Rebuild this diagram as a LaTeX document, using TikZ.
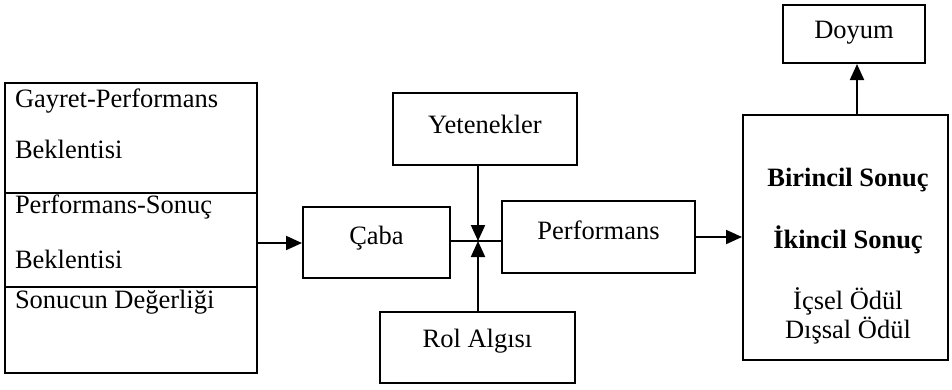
\documentclass[tikz,border=0pt]{standalone}
\usepackage{fontspec}
\setmainfont{Liberation Serif}
\usetikzlibrary{arrows.meta}
\begin{document}
\begin{tikzpicture}[x=1pt,y=-1pt,
  line width=2pt,
  every node/.style={font=\fontsize{26.5}{30}\selectfont, inner sep=0pt},
  box/.style={draw, line width=2pt, rectangle},
  arr/.style={-{Triangle[length=16pt,width=14pt]}},
  lbl/.style={anchor=west}]
\useasboundingbox (0,0) rectangle (952,389);
% left composite box
\node[box, minimum width=252pt, minimum height=290pt] (exp) at (131,228) {};
\coordinate (d1l) at (5,193); \coordinate (d1r) at (257,193);
\coordinate (d2l) at (5,287); \coordinate (d2r) at (257,287);
\draw (d1l) -- (d1r);
\draw (d2l) -- (d2r);
\node[lbl] (t1) at (14,101) {Gayret-Performans};
\node[lbl] (t2) at (14,149) {Beklentisi};
\node[lbl] (t3) at (14,207) {Performans-Sonuç};
\node[lbl] (t4) at (14,259) {Beklentisi};
\node[lbl] (t5) at (14,302) {Sonucun Değerliği};
% middle boxes
\node[box, minimum width=147pt, minimum height=71pt] (caba) at (376.5,242.5) {};
\node (tcaba) at (376.5,238) {Çaba};
\node[box, minimum width=184pt, minimum height=72pt] (yet) at (485,129) {};
\node (tyet) at (485,124) {Yetenekler};
\node[box, minimum width=195pt, minimum height=71pt] (rol) at (477.5,347.5) {};
\node (trol) at (477.5,341) {Rol Algısı};
\node[box, minimum width=193pt, minimum height=72pt] (perf) at (598.5,237) {};
\node (tperf) at (598.5,230) {Performans};
% right boxes
\node[box, minimum width=205pt, minimum height=245pt] (sonuc) at (845.5,237.5) {};
\node[font=\fontsize{26.5}{30}\selectfont\bfseries] (s1) at (848,180) {Birincil Sonuç};
\node[font=\fontsize{26.5}{30}\selectfont\bfseries] (s2) at (848,240) {İkincil Sonuç};
\node (s3) at (848,301) {İçsel Ödül};
\node (s4) at (848,331) {Dışsal Ödül};
\node[box, minimum width=142pt, minimum height=58pt] (doy) at (854,34) {};
\node (tdoy) at (854,33) {Doyum};
% connectors
\coordinate (J) at (478,241);
\coordinate (ex) at (257,243);
\draw[arr] (ex) -- (caba.west |- ex);
\draw (caba.east |- J) -- (perf.west |- J);
\draw[arr] (J |- yet.south) -- (J);
\draw[arr] (J |- rol.north) -- (J);
\draw[arr] (perf.east) -- (sonuc.west |- perf.east);
\coordinate (up) at (857,115);
\draw[arr] (up) -- (up |- doy.south);
\end{tikzpicture}
\end{document}
